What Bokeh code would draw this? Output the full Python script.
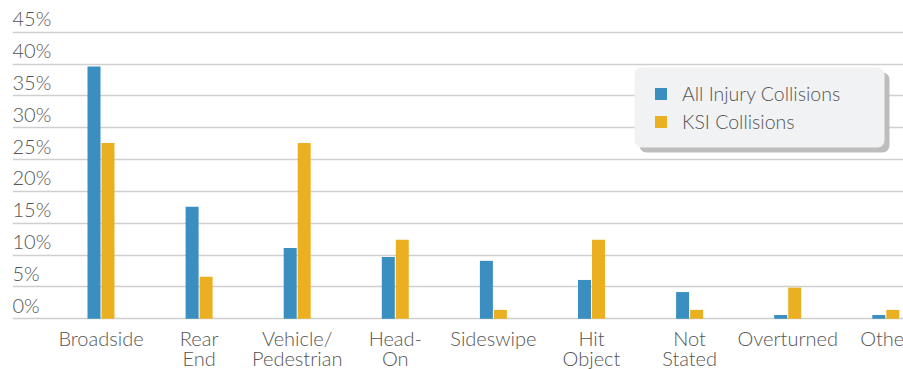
from bokeh.plotting import figure
from bokeh.models import ColumnDataSource, FixedTicker, Grid, BoxAnnotation, Legend, LegendItem, Range1d
from bokeh.transform import dodge
from bokeh.core.properties import value
from bokeh.embed import file_html
from bokeh.resources import INLINE

# ---- data ----
categories = ["Broadside", "Rear\nEnd", "Vehicle/\nPedestrian", "Head-\nOn", "Sideswipe",
              "Hit\nObject", "Not\nStated", "Overturned", "Other"]
all_injury = [39.6, 17.6, 11.1, 9.7, 9.1, 6.1, 4.2, 0.6, 0.6]
ksi = [27.6, 6.6, 27.6, 12.4, 1.4, 12.4, 1.4, 4.9, 1.4]
y_ticks = [0, 5, 10, 15, 20, 25, 30, 35, 40, 45]
y_tick_labels = ["0%", "5%", "10%", "15%", "20%", "25%", "30%", "35%", "40%", "45%"]
series_names = ["All Injury Collisions", "KSI Collisions"]

# ---- style / layout ----
BLUE = "#3a8fc0"
GOLD = "#ebb022"
TEXT = "#555555"
FONT = "'Lato Light', Lato"
FS = "20px"
W, H = 903, 369
FRAME_LEFT = 12
CAT_PX = 98.1
FIRST_CAT_PX = 100.5
ZERO_PX = 318.3
PCT_PX = 6.369

x_start = -(FIRST_CAT_PX - FRAME_LEFT) / CAT_PX
x_end = x_start + (W - FRAME_LEFT) / CAT_PX
y_end = ZERO_PX / PCT_PX
y_start = -(H - ZERO_PX) / PCT_PX


def px2x(px):
    return x_start + (px - FRAME_LEFT) / CAT_PX


def px2y(py):
    return (ZERO_PX - py) / PCT_PX


xs = list(range(len(categories)))
line1 = [c.split("\n")[0] for c in categories]
line2 = [c.split("\n")[1] if "\n" in c else "" for c in categories]
src = ColumnDataSource(dict(x=xs, a=all_injury, k=ksi, l1=line1, l2=line2, zero=[0] * len(xs)))

p = figure(width=W, height=H, output_backend="svg", toolbar_location=None,
           x_axis_type=None, y_axis_type=None,
           x_range=Range1d(x_start, x_end), y_range=Range1d(y_start, y_end),
           min_border_left=FRAME_LEFT, min_border_right=0, min_border_top=0, min_border_bottom=0,
           outline_line_color=None, background_fill_color="white", border_fill_color="white")

grid = Grid(dimension=1, ticker=FixedTicker(ticks=y_ticks),
            grid_line_color="#cfcfcf", grid_line_width=1.3)
p.add_layout(grid)

bw = 13 / CAT_PX
off = 7 / CAT_PX
r1 = p.vbar(x=dodge("x", -off, range=p.x_range), top="a", bottom=0, width=bw, source=src,
            fill_color=BLUE, line_color=None)
r2 = p.vbar(x=dodge("x", off, range=p.x_range), top="k", bottom=0, width=bw, source=src,
            fill_color=GOLD, line_color=None)

# y tick labels (above grid lines)
ysrc = ColumnDataSource(dict(x=[x_start] * len(y_ticks), y=y_ticks, t=y_tick_labels))
p.text(x="x", y="y", text="t", source=ysrc, text_align="left", text_baseline="alphabetic",
       y_offset=-14, text_font=value(FONT), text_font_size=FS, text_color=TEXT)

# category labels (two lines)
p.text(x="x", y="zero", text="l1", source=src, text_align="center", text_baseline="top",
       y_offset=7, text_font=value(FONT), text_font_size=FS, text_color=TEXT)
p.text(x="x", y="zero", text="l2", source=src, text_align="center", text_baseline="top",
       y_offset=27, text_font=value(FONT), text_font_size=FS, text_color=TEXT)

# legend box with shadow
box_kw = {}
if "border_radius" in BoxAnnotation.properties():
    box_kw["border_radius"] = 7
shadow = BoxAnnotation(left=px2x(639), right=px2x(889), top=px2y(72), bottom=px2y(152),
                       fill_color="#bdbdbd", fill_alpha=1, line_color=None, **box_kw)
panel = BoxAnnotation(left=px2x(634), right=px2x(884), top=px2y(67), bottom=px2y(147),
                      fill_color="#f1f2f4", fill_alpha=1, line_color=None, **box_kw)
p.add_layout(shadow)
p.add_layout(panel)

legend = Legend(items=[LegendItem(label=series_names[0], renderers=[r1]),
                       LegendItem(label=series_names[1], renderers=[r2])],
                location=(631, 226.5), margin=0, padding=10, spacing=5,
                glyph_width=15, glyph_height=15, label_standoff=14,
                label_text_font=FONT, label_text_font_size="19.5px", label_text_color=TEXT,
                background_fill_alpha=0, border_line_alpha=0)
p.add_layout(legend)

open("out.html", "w").write(file_html(p, INLINE))
